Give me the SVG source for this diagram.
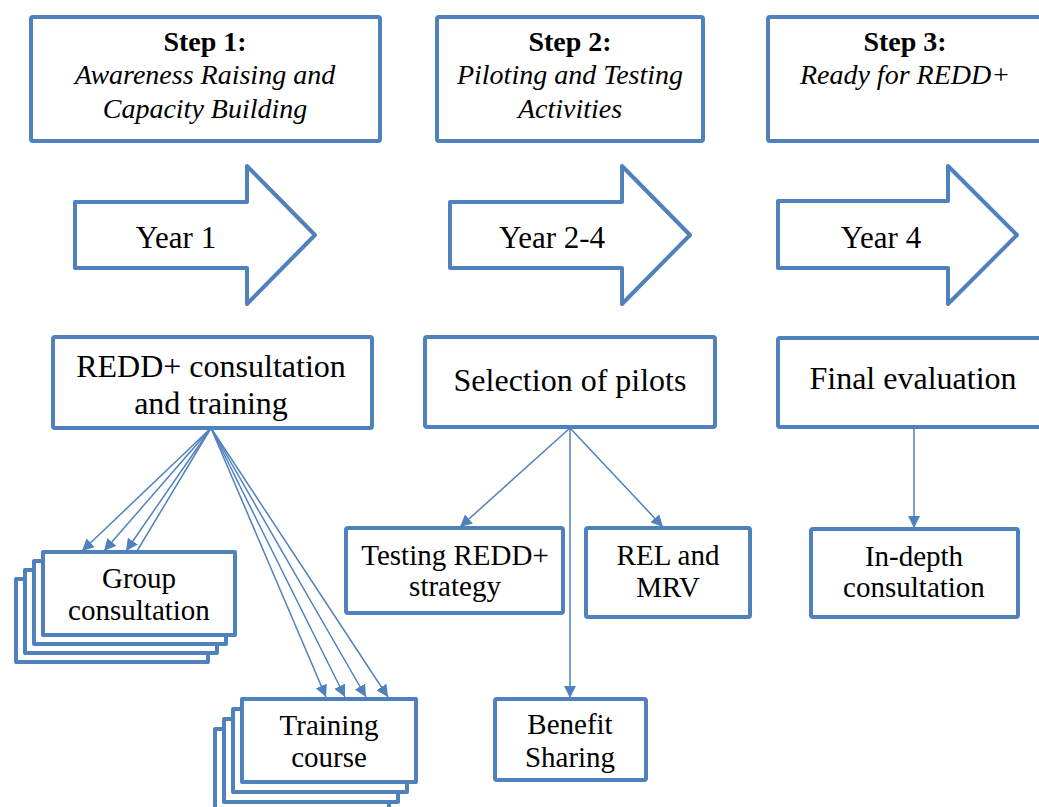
<svg xmlns="http://www.w3.org/2000/svg" width="1039" height="807" viewBox="0 0 1039 807">
<style>
.box{fill:#fff;stroke:#4F81BD;stroke-width:4;stroke-linejoin:round}
text{font-family:'Liberation Serif','DejaVu Serif',serif;fill:#000;text-anchor:middle}
.s28{font-size:28px}
.s29{font-size:29px}
.s31{font-size:31px}
.s32{font-size:32px}
.b{font-weight:bold}
.i{font-style:italic}
.c{stroke:#4F81BD;stroke-width:1.5;fill:none}
</style>
<defs>
<marker id="ah" markerUnits="userSpaceOnUse" markerWidth="14" markerHeight="12" refX="12" refY="6" orient="auto">
<path d="M0,0 L12,6 L0,12 Z" fill="#4F81BD"/>
</marker>
</defs>
<rect width="1039" height="807" fill="#fff"/>

<g id="step1">
<rect class="box" x="31" y="17" width="349" height="124" rx="2"/>
<text class="s28 b" x="205" y="51">Step 1:</text>
<text class="s28 i" x="205" y="84">Awareness Raising and</text>
<text class="s28 i" x="205" y="118">Capacity Building</text>
</g>
<g id="step2">
<rect class="box" x="437" y="17" width="266" height="124" rx="2"/>
<text class="s28 b" x="570" y="51">Step 2:</text>
<text class="s28 i" x="570" y="84">Piloting and Testing</text>
<text class="s28 i" x="570" y="118">Activities</text>
</g>
<g id="step3">
<rect class="box" x="768" y="17" width="280" height="124" rx="2"/>
<text class="s28 b" x="905" y="51">Step 3:</text>
<text class="s28 i" x="905" y="84">Ready for REDD+</text>
</g>

<g id="year1">
<path class="box" d="M75,202 L247,202 L247,166 L315,235 L247,304 L247,268 L75,268 Z"/>
<text class="s31" x="176" y="248">Year 1</text>
</g>
<g id="year2">
<path class="box" d="M450,202 L622,202 L622,166 L690,235 L622,304 L622,268 L450,268 Z"/>
<text class="s31" x="552" y="248">Year 2-4</text>
</g>
<g id="year4">
<path class="box" d="M778,201 L948,201 L948,166 L1017,235 L948,304 L948,268 L778,268 Z"/>
<text class="s31" x="881" y="248">Year 4</text>
</g>

<g id="redd">
<rect class="box" x="53" y="337" width="319" height="91" rx="2"/>
<text class="s32" x="211" y="377">REDD+ consultation</text>
<text class="s32" x="211" y="414">and training</text>
</g>
<g id="selection">
<rect class="box" x="425" y="337" width="290" height="90" rx="2"/>
<text class="s32" x="570" y="391">Selection of pilots</text>
</g>
<g id="final">
<rect class="box" x="778" y="338" width="275" height="89" rx="2"/>
<text class="s32" x="913" y="389">Final evaluation</text>
</g>

<g id="group">
<rect class="box" x="16" y="579" width="192" height="83"/>
<rect class="box" x="25" y="570" width="192" height="83"/>
<rect class="box" x="34" y="561" width="192" height="83"/>
<rect class="box" x="43" y="552" width="192" height="83"/>
<text class="s29" x="139" y="588">Group</text>
<text class="s29" x="139" y="620">consultation</text>
</g>
<g id="training">
<rect class="box" x="215" y="729" width="174" height="83"/>
<rect class="box" x="224" y="719" width="174" height="83"/>
<rect class="box" x="233" y="709" width="174" height="83"/>
<rect class="box" x="242" y="699" width="174" height="83"/>
<text class="s29" x="329" y="735">Training</text>
<text class="s29" x="329" y="767">course</text>
</g>
<g id="testing">
<rect class="box" x="346" y="528" width="217" height="85" rx="2"/>
<text class="s29" x="455" y="565">Testing REDD+</text>
<text class="s29" x="455" y="596">strategy</text>
</g>
<g id="rel">
<rect class="box" x="586" y="528" width="164" height="89" rx="2"/>
<text class="s29" x="668" y="565">REL and</text>
<text class="s29" x="668" y="597">MRV</text>
</g>
<g id="benefit">
<rect class="box" x="495" y="699" width="151" height="81" rx="2"/>
<text class="s29" x="570" y="734">Benefit</text>
<text class="s29" x="570" y="767">Sharing</text>
</g>
<g id="indepth">
<rect class="box" x="811" y="529" width="207" height="88" rx="2"/>
<text class="s29" x="914" y="566">In-depth</text>
<text class="s29" x="914" y="597">consultation</text>
</g>

<g id="connectors">
<line class="c" x1="211" y1="428" x2="82" y2="551" marker-end="url(#ah)"/>
<line class="c" x1="211" y1="428" x2="104" y2="551" marker-end="url(#ah)"/>
<line class="c" x1="211" y1="428" x2="126" y2="551" marker-end="url(#ah)"/>
<line class="c" x1="211" y1="428" x2="137" y2="551"/>
<line class="c" x1="211" y1="428" x2="326" y2="697" marker-end="url(#ah)"/>
<line class="c" x1="211" y1="428" x2="345" y2="697" marker-end="url(#ah)"/>
<line class="c" x1="211" y1="428" x2="366" y2="697" marker-end="url(#ah)"/>
<line class="c" x1="211" y1="428" x2="388" y2="697" marker-end="url(#ah)"/>
<line class="c" x1="570" y1="428" x2="460" y2="527" marker-end="url(#ah)"/>
<line class="c" x1="570" y1="428" x2="663" y2="527" marker-end="url(#ah)"/>
<line class="c" x1="570" y1="428" x2="570" y2="698" marker-end="url(#ah)"/>
<line class="c" x1="914" y1="428" x2="914" y2="528" marker-end="url(#ah)"/>
</g>
</svg>
